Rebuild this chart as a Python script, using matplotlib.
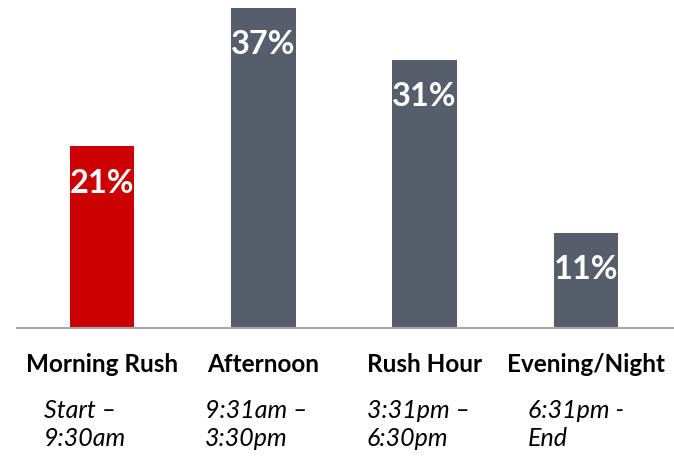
import matplotlib
matplotlib.use("Agg")
import matplotlib.pyplot as plt
from matplotlib.transforms import blended_transform_factory, offset_copy

categories = ["Morning Rush", "Afternoon", "Rush Hour", "Evening/Night"]
values = [21, 37, 31, 11]
sublabels = [["Start –", "9:30am"], ["9:31am –", "3:30pm"], ["3:31pm –", "6:30pm"], ["6:31pm -", "End"]]
colors = ["#CC0000", "#575E6B", "#575E6B", "#575E6B"]

plt.rcParams['font.family'] = ['Lato', 'DejaVu Sans']

fig = plt.figure(figsize=(6.74, 4.62), dpi=100)
ax = fig.add_axes([17/674, (462-328)/462, 1 - 17/674, 328/462])
x = list(range(len(categories)))
bars = ax.bar(x, values, width=0.4, color=colors, zorder=2)
ax.set_xlim(-0.527, 3.546)
ax.set_ylim(0, 37 * 328 / 320)
for s in ["top", "right", "left"]:
    ax.spines[s].set_visible(False)
ax.spines["bottom"].set_color("#A6A6A6")
ax.spines["bottom"].set_linewidth(1.5)
ax.set_yticks([])
ax.set_xticks([])

for b, v in zip(bars, values):
    ax.annotate(f"{v}%", (b.get_x() + b.get_width() / 2, v), xytext=(0, -37),
                textcoords="offset pixels", ha="center", va="center",
                color="white", fontsize=23.5, fontweight="bold")

trans = blended_transform_factory(ax.transData, fig.transFigure)
for xi, c, s in zip(x, categories, sublabels):
    fig.text(xi, 1 - 364/462, c, transform=trans, ha="center", va="center",
             fontsize=17.5, fontweight="bold", color="black")
    t = offset_copy(trans, fig=fig, x=-58, y=0, units="dots")
    for line, ypx in zip(s, [410, 438]):
        fig.text(xi, 1 - ypx/462, line, transform=t, ha="left", va="center",
                 fontsize=18, fontstyle="italic", color="black")

fig.savefig("out.png", dpi=100)
